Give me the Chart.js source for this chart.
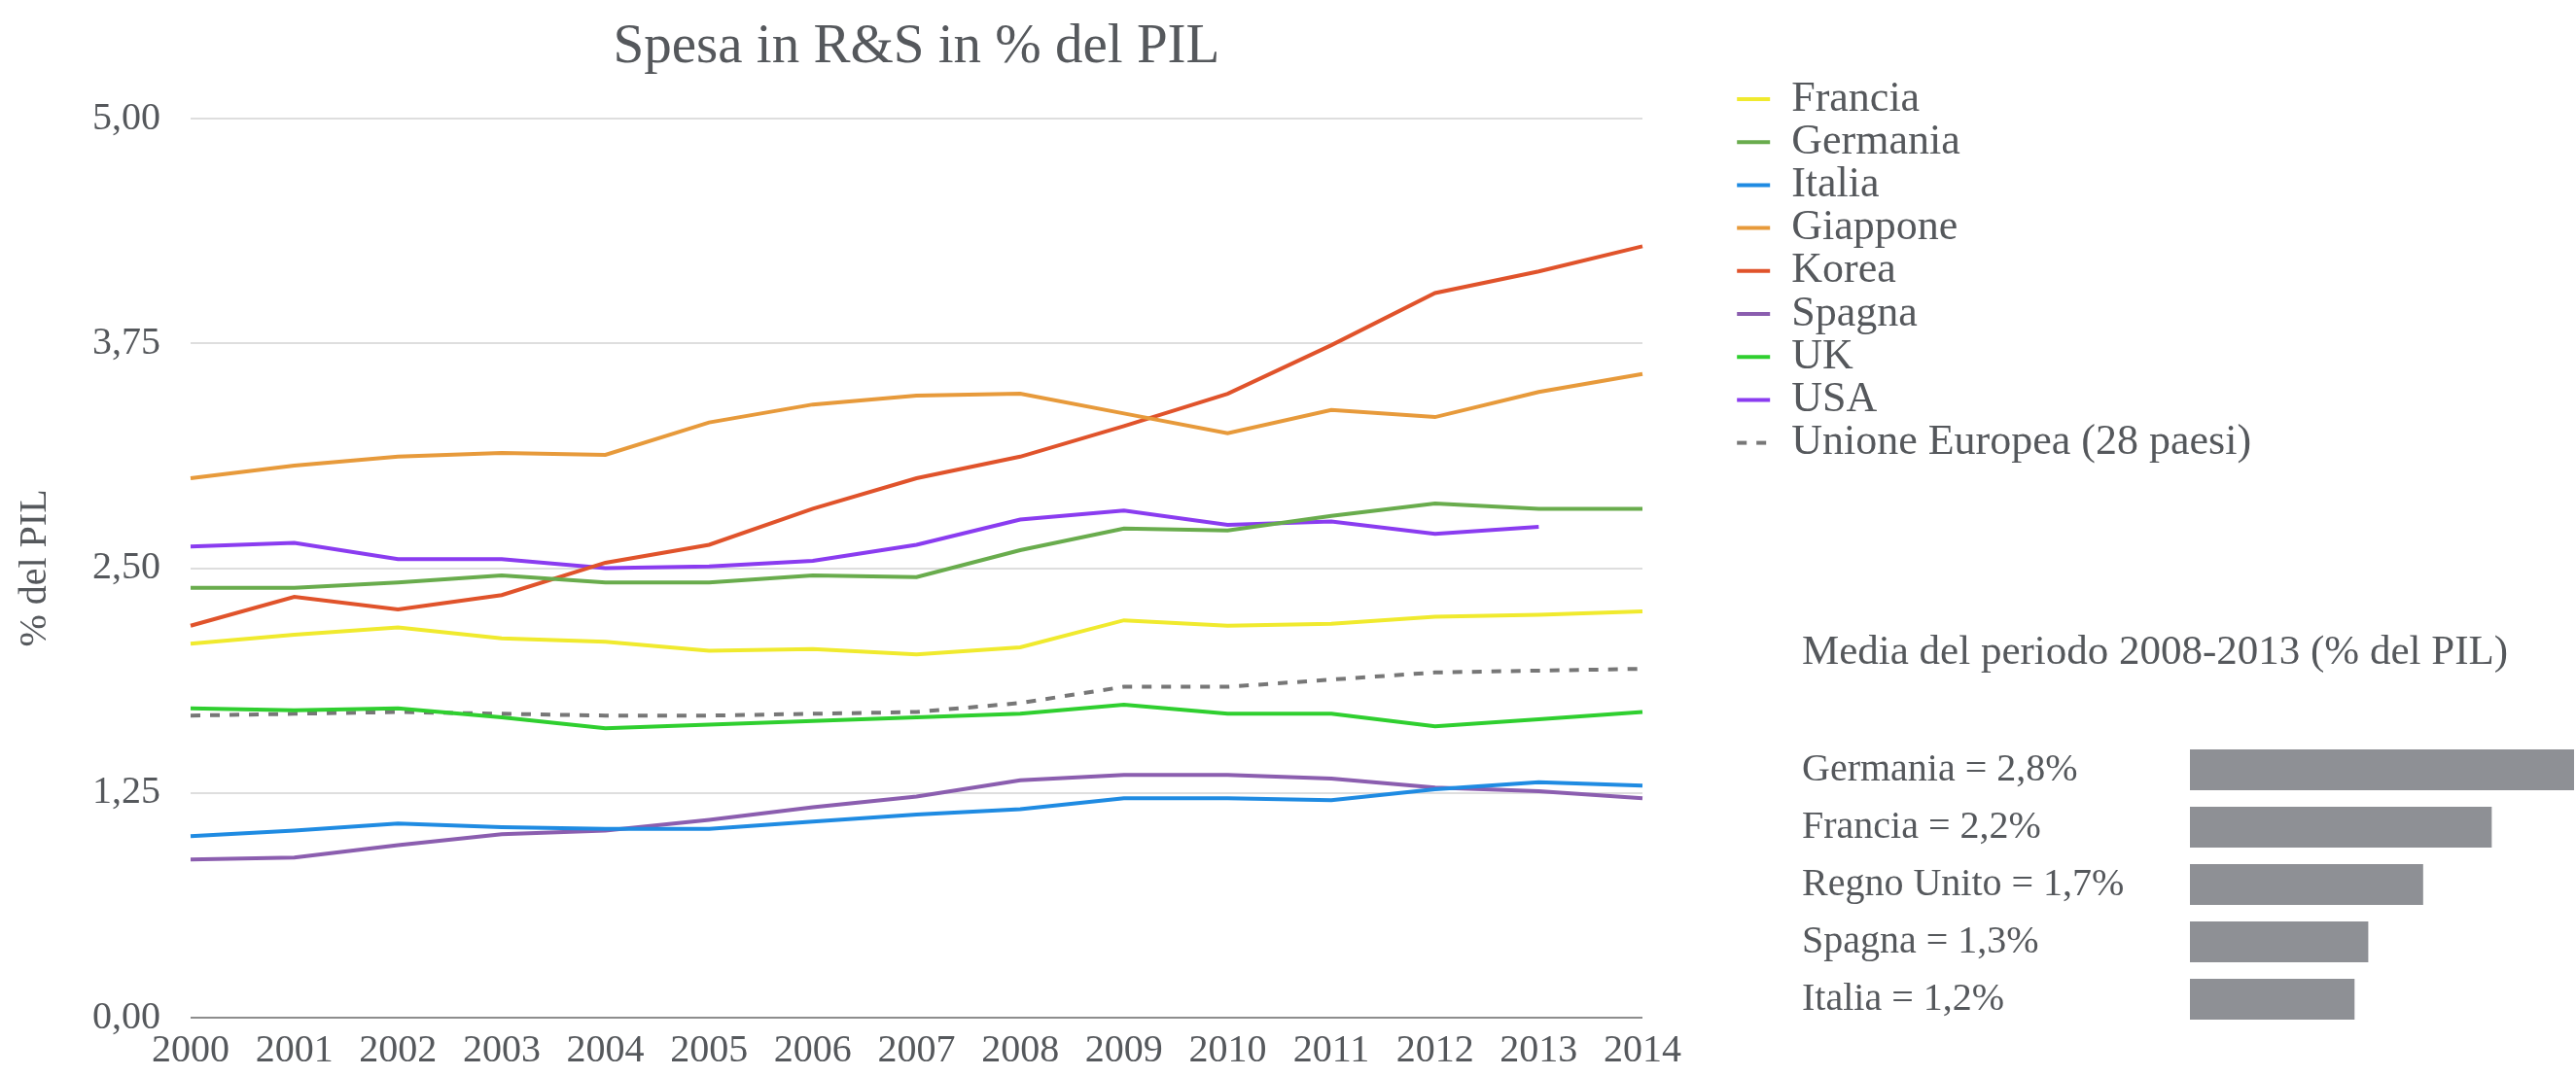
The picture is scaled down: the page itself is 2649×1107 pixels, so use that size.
<!DOCTYPE html>
<html>
<head>
<meta charset="utf-8">
<script src="https://cdn.jsdelivr.net/npm/chart.js@4.4.1/dist/chart.umd.min.js"></script>
<style>
  html, body { margin: 0; padding: 0; background: #ffffff; }
  #wrap { position: relative; width: 2649px; height: 1107px; overflow: hidden; background: #ffffff; }
  #lineChart { position: absolute; left: 0; top: 0; }
  #barChart { position: absolute; left: 1853px; top: 640px; }
</style>
</head>
<body>
<div id="wrap">
  <canvas id="lineChart" width="2649" height="1107"></canvas>
  <canvas id="barChart" width="796" height="467"></canvas>
</div>
<script>
// ---- Data ----
const years = ['2000','2001','2002','2003','2004','2005','2006','2007','2008','2009','2010','2011','2012','2013','2014'];

const francia  = [2.08, 2.13, 2.17, 2.11, 2.09, 2.04, 2.05, 2.02, 2.06, 2.21, 2.18, 2.19, 2.23, 2.24, 2.26];
const germania = [2.39, 2.39, 2.42, 2.46, 2.42, 2.42, 2.46, 2.45, 2.60, 2.72, 2.71, 2.79, 2.86, 2.83, 2.83];
const italia   = [1.01, 1.04, 1.08, 1.06, 1.05, 1.05, 1.09, 1.13, 1.16, 1.22, 1.22, 1.21, 1.27, 1.31, 1.29];
const giappone = [3.00, 3.07, 3.12, 3.14, 3.13, 3.31, 3.41, 3.46, 3.47, 3.36, 3.25, 3.38, 3.34, 3.48, 3.58];
const korea    = [2.18, 2.34, 2.27, 2.35, 2.53, 2.63, 2.83, 3.00, 3.12, 3.29, 3.47, 3.74, 4.03, 4.15, 4.29];
const spagna   = [0.88, 0.89, 0.96, 1.02, 1.04, 1.10, 1.17, 1.23, 1.32, 1.35, 1.35, 1.33, 1.28, 1.26, 1.22];
const uk       = [1.72, 1.71, 1.72, 1.67, 1.61, 1.63, 1.65, 1.67, 1.69, 1.74, 1.69, 1.69, 1.62, 1.66, 1.70];
const usa      = [2.62, 2.64, 2.55, 2.55, 2.50, 2.51, 2.54, 2.63, 2.77, 2.82, 2.74, 2.76, 2.69, 2.73, null];
const ue28     = [1.68, 1.69, 1.70, 1.69, 1.68, 1.68, 1.69, 1.70, 1.75, 1.84, 1.84, 1.88, 1.92, 1.93, 1.94];

const seriesNames = ['Francia', 'Germania', 'Italia', 'Giappone', 'Korea', 'Spagna', 'UK', 'USA', 'Unione Europea (28 paesi)'];
const seriesData  = [francia, germania, italia, giappone, korea, spagna, uk, usa, ue28];

const yTicks = [0, 1.25, 2.5, 3.75, 5];

// Average 2008-2013 panel
const avgCountries = ['Germania', 'Francia', 'Regno Unito', 'Spagna', 'Italia'];
const avgValues    = [2.8, 2.2, 1.7, 1.3, 1.2];

// ---- Styles (kept apart from the data) ----
const seriesColors = ['#f0ea2e', '#69ac4d', '#1f8be2', '#e79a3b', '#e0532b', '#8b5eaf', '#2fcf2f', '#8a3cf0', '#777777'];
const seriesDash   = [[], [], [], [], [], [], [], [], [10, 10]];
const textColor = '#55585c';
const serif = '"Liberation Serif", "Times New Roman", serif';

Chart.defaults.font.family = serif;
Chart.defaults.color = textColor;

const fmt = v => v.toFixed(2).replace('.', ',');

// Legend geometry: measure the widest label so the legend box is never clipped
const legendFont = 44, legendPad = 0.2, legendBoxW = 34, padScaleW = 97, plotRight = 1689, canvasW = 2649;
const mctx = document.createElement('canvas').getContext('2d');
mctx.font = 'normal ' + legendFont + 'px ' + serif;
const maxLabelW = Math.max(...seriesNames.map(n => mctx.measureText(n).width));
const legendW = legendPad + legendBoxW + legendFont / 2 + maxLabelW + 10;
const rightPad = canvasW - plotRight - padScaleW - legendW;

const datasets = seriesNames.map((name, i) => ({
  label: name,
  data: seriesData[i],
  borderColor: seriesColors[i],
  backgroundColor: seriesColors[i],
  borderWidth: 4,
  borderDash: seriesDash[i],
  pointRadius: 0,
  pointHoverRadius: 0,
  tension: 0,
  fill: false,
  spanGaps: false
}));

new Chart(document.getElementById('lineChart'), {
  type: 'line',
  data: { labels: years, datasets: datasets },
  options: {
    responsive: false,
    animation: false,
    devicePixelRatio: 1,
    layout: { padding: { left: 0, right: rightPad, top: 0, bottom: 0 } },
    plugins: {
      title: {
        display: true,
        text: 'Spesa in R&S in % del PIL',
        fullSize: false,
        color: textColor,
        font: { size: 57, weight: 'normal', lineHeight: 1.2 },
        padding: { top: 14.6, bottom: 39 }
      },
      legend: {
        position: 'right',
        align: 'start',
        fullSize: true,
        maxWidth: legendW + 60,
        title: { display: true, text: '', font: { size: 1, lineHeight: 1 }, padding: { top: 78.8, bottom: 0 } },
        labels: {
          usePointStyle: true,
          pointStyle: 'line',
          pointStyleWidth: legendBoxW,
          padding: legendPad,
          color: textColor,
          font: { size: legendFont, lineHeight: 1 },
          generateLabels: chart => {
            const items = Chart.defaults.plugins.legend.labels.generateLabels(chart);
            items.forEach(it => {
              const ds = chart.data.datasets[it.datasetIndex];
              it.lineWidth = ds.borderWidth;
              it.lineDash = ds.borderDash;
              it.strokeStyle = ds.borderColor;
              it.fillStyle = ds.borderColor;
            });
            return items;
          }
        }
      },
      tooltip: { enabled: false }
    },
    scales: {
      x: {
        grid: { display: false, drawTicks: false },
        border: { display: false },
        ticks: { font: { size: 40 }, padding: 10, maxRotation: 0, minRotation: 0, autoSkip: false, color: textColor },
        afterFit: s => { s.height = 60; }
      },
      y: {
        min: 0,
        max: 5,
        afterBuildTicks: s => { s.ticks = yTicks.map(v => ({ value: v })); },
        ticks: { padding: 31, font: { size: 40 }, color: textColor, callback: v => fmt(v) },
        grid: {
          drawTicks: false,
          lineWidth: 2,
          color: c => (c.tick && c.tick.value === 0) ? '#8d8d8d' : '#dedede'
        },
        border: { display: false },
        title: { display: true, text: '% del PIL', color: textColor, font: { size: 40, lineHeight: 1.2 }, padding: { top: 12, bottom: 0 } },
        afterFit: s => { s.width = 196; }
      },
      pad: {
        type: 'linear',
        position: 'right',
        display: true,
        grid: { display: false, drawTicks: false },
        border: { display: false },
        ticks: { display: false },
        afterFit: s => { s.width = padScaleW; }
      }
    }
  }
});

const barLabels = avgCountries.map((c, i) => c + ' = ' + avgValues[i].toFixed(1).replace('.', ',') + '%');

new Chart(document.getElementById('barChart'), {
  type: 'bar',
  data: {
    labels: barLabels,
    datasets: [{
      data: avgValues,
      backgroundColor: '#8e9095',
      borderWidth: 0,
      barPercentage: 0.712,
      categoryPercentage: 1
    }]
  },
  options: {
    indexAxis: 'y',
    responsive: false,
    animation: false,
    devicePixelRatio: 1,
    layout: { padding: { left: 0, right: 2, top: 0, bottom: 49.5 } },
    plugins: {
      legend: { display: false },
      tooltip: { enabled: false },
      title: {
        display: true,
        text: 'Media del periodo 2008-2013 (% del PIL)',
        align: 'start',
        color: textColor,
        font: { size: 43, weight: 'normal', lineHeight: 1.2 },
        padding: { top: 6.2, bottom: 64.7 }
      }
    },
    scales: {
      x: { display: false, min: 0, max: 2.8 },
      y: {
        grid: { display: false, drawTicks: false },
        border: { display: false },
        ticks: { crossAlign: 'far', font: { size: 40 }, color: textColor, padding: 0 },
        afterFit: s => { s.width = 399; }
      }
    }
  }
});
</script>
</body>
</html>
